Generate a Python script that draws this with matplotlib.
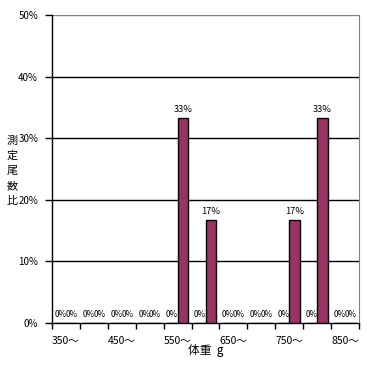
import numpy as np
import matplotlib
matplotlib.use('Agg')
import matplotlib.pyplot as plt

plt.rcParams['font.family'] = ['Noto Sans CJK JP', 'DejaVu Sans']

# weight classes (g) and share of measured fish, two series
categories = ['350～', '400～', '450～', '500～', '550～', '600～',
              '650～', '700～', '750～', '800～', '850～']
series_a = [0, 0, 0, 0, 0, 0, 0, 0, 0, 0, 0]
series_b = [0, 0, 0, 0, 33.3, 16.7, 0, 0, 16.7, 33.3, 0]
y_title = '測定尾数比'

fig = plt.figure(figsize=(3.67, 3.67), dpi=100)
ax = fig.add_axes([52/367, 1 - 323/367, 307/367, 308/367])

x = np.arange(len(categories))
w = 0.39
bars_a = ax.bar(x - w/2, series_a, w, color='#993366', edgecolor='black', linewidth=1, zorder=3)
bars_b = ax.bar(x + w/2, series_b, w, color='#993366', edgecolor='black', linewidth=1, zorder=3)

for bars, vals in [(bars_a, series_a), (bars_b, series_b)]:
    for b, v in zip(bars, vals):
        ax.text(b.get_x() + b.get_width()/2, v + 0.7, '%d%%' % round(v),
                ha='center', va='bottom', fontsize=6.7 if v else 5.9, zorder=4)

ax.set_xlim(-0.5, len(categories) - 0.5)
ax.set_ylim(0, 50)

# gridlines
for yv in [10, 20, 30, 40]:
    ax.axhline(yv, color='black', linewidth=1, zorder=1)
ax.axhline(50, color='#808080', linewidth=1, zorder=1)

ax.set_yticks([0, 10, 20, 30, 40, 50])
ax.set_yticklabels(['0%', '10%', '20%', '30%', '40%', '50%'], fontsize=7)
ax.tick_params(axis='y', length=5, width=1, direction='out', pad=5)

ax.set_xticks(x[::2])
ax.set_xticklabels(categories[::2], fontsize=7.5)
ax.set_xticks(np.arange(-0.5, len(categories), 1), minor=True)
ax.tick_params(axis='x', which='major', length=0, pad=9)
ax.tick_params(axis='x', which='minor', length=4, width=1, direction='out')

ax.spines['top'].set_visible(False)
ax.spines['right'].set_color('#808080')
ax.spines['left'].set_linewidth(1)
ax.spines['bottom'].set_linewidth(1)

ax.set_xlabel('体重  g', fontsize=8.5, labelpad=-1)

# stacked vertical axis title, one character per line
for i, ch in enumerate(y_title):
    fig.text(12/367, 1 - (141 + 15*i)/367, ch, fontsize=8,
             ha='center', va='center', rotation=0)

fig.savefig('out.png', dpi=100)
